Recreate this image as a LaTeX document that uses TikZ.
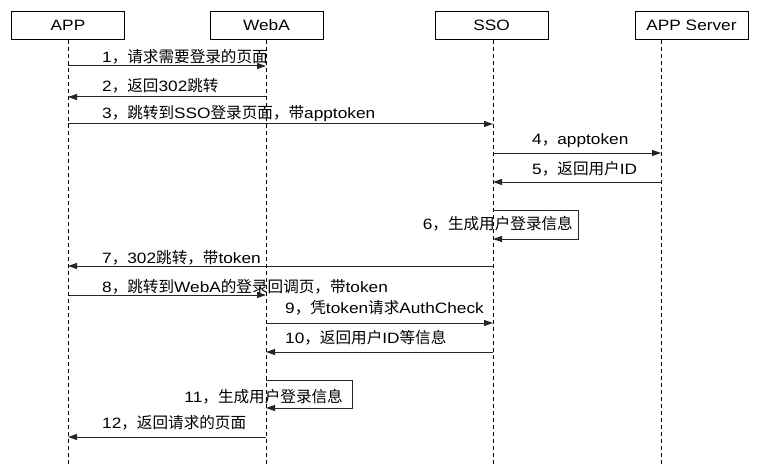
\documentclass[tikz,border=0pt]{standalone}
\usepackage{fontspec}
\setmainfont{Liberation Sans}[FakeStretch=1.15]
\newfontfamily\cjk{Noto Sans CJK SC}[Scale=1.04]
\usetikzlibrary{arrows.meta,positioning}
\newcommand{\zh}[1]{{\cjk #1}}
\tikzset{
  actor/.style={draw, line width=1pt, minimum width=113pt, minimum height=28pt,
    inner sep=0pt, font=\fontsize{15}{17}\selectfont},
  lifeline/.style={line width=1pt, dash pattern=on 4pt off 3pt},
  msg/.style={draw=black!85, line width=1pt, -{Triangle[length=9pt,width=6pt]}},
  msglabel/.style={inner sep=0pt, font=\fontsize{15}{17}\selectfont}
}

\begin{document}
\begin{tikzpicture}[x=1pt, y=-1pt]
\useasboundingbox (0,0) rectangle (760,476);
% Participants
\node[actor] (app)  at (68,25.5)    {APP};
\node[actor] (weba) at (266.5,25.5) {WebA};
\node[actor] (sso)  at (491.5,25.5) {SSO};
\node[actor] (srv)  at (691.5,25.5) {APP Server};
% Lifelines (APP Server line is left of its box centre)
\coordinate (appL)  at (app.south);
\coordinate (webaL) at ([xshift=-0.5pt]weba.south);
\coordinate (ssoL)  at ([xshift=1.5pt]sso.south);
\coordinate (srvL)  at ([xshift=-30.5pt]srv.south);
\foreach \n in {appL, webaL, ssoL, srvL} {
  \draw[lifeline] (\n) -- (\n |- 0,465);
}
% Messages: index / arrow y / from / to / label x / label baseline / text
\foreach \i/\ya/\from/\to/\lx/\ly/\txt in {
  1/66/appL/webaL/102/63/{1\zh{，请求需要登录的页面}},
  2/97/webaL/appL/102/92/{2\zh{，返回}302\zh{跳转}},
  3/124/appL/ssoL/102/119/{3\zh{，跳转到}SSO\zh{登录页面，带}apptoken},
  4/153/ssoL/srvL/532/145/{4\zh{，}apptoken},
  5/182/srvL/ssoL/532/175/{5\zh{，返回用户}ID},
  7/266/ssoL/appL/102/263/{7\zh{，}302\zh{跳转，带}token},
  8/295/appL/webaL/102/292/{8\zh{，跳转到}WebA\zh{的登录回调页，带}token},
  9/323/webaL/ssoL/285/313/{9\zh{，凭}token\zh{请求}AuthCheck},
  10/352/ssoL/webaL/285/343/{10\zh{，返回用户}ID\zh{等信息}},
  12/437/webaL/appL/102/428/{12\zh{，返回请求的页面}}} {
  \draw[msg] (\from |- 0,\ya) -- (\to |- 0,\ya);
  \node[msglabel, anchor=base west, name=m\i] at (\lx,\ly) {\txt};
}
% Self calls
\draw[msg] (ssoL |- 0,210) -- ++(85,0) |- (ssoL |- 0,239);
\node[msglabel, anchor=base east] (m6) at (573,229) {6\zh{，生成用户登录信息}};
\draw[msg] (webaL |- 0,380) -- ++(86,0) |- (webaL |- 0,408);
\node[msglabel, anchor=base east] (m11) at (343,402) {11\zh{，生成用户登录信息}};
\end{tikzpicture}
\end{document}
